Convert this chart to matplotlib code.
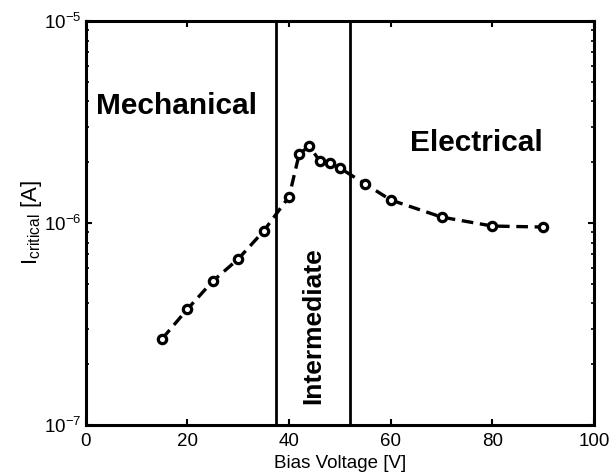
import matplotlib
matplotlib.use("Agg")
import matplotlib.pyplot as plt
from matplotlib.ticker import LogLocator, NullFormatter

plt.rcParams["font.family"] = ["Liberation Sans", "DejaVu Sans"]
plt.rcParams["mathtext.fontset"] = "custom"
plt.rcParams["mathtext.rm"] = "Liberation Sans"
plt.rcParams["mathtext.it"] = "Liberation Sans"
plt.rcParams["mathtext.default"] = "regular"

# bias voltage [V] and critical current [A]
voltage = [15, 20, 25, 30, 35, 40, 42, 44, 46, 48, 50, 55, 60, 70, 80, 90]
i_critical = [2.67e-7, 3.75e-7, 5.16e-7, 6.64e-7, 9.13e-7, 1.35e-6, 2.20e-6, 2.40e-6,
              2.03e-6, 1.98e-6, 1.87e-6, 1.56e-6, 1.30e-6, 1.07e-6, 0.966e-6, 0.955e-6]
boundaries = [37.5, 52.0]
x_ticks = [0, 20, 40, 60, 80, 100]

fig = plt.figure(figsize=(6.13, 4.76), dpi=100)
ax = fig.add_axes([0.140, 0.107, 0.829, 0.849])

ax.plot(voltage, i_critical, ls="--", color="black", lw=2.4, dashes=(3.5, 2),
        marker="o", ms=6, mfc="white", mec="black", mew=2.3)
for b in boundaries:
    ax.axvline(b, color="black", lw=2.0)

ax.set_yscale("log")
ax.set_xlim(0, 100)
ax.set_ylim(1e-7, 1e-5)
ax.set_xticks(x_ticks)
ax.yaxis.set_major_locator(LogLocator(base=10, numticks=5))
ax.yaxis.set_minor_locator(LogLocator(base=10, subs=range(2, 10), numticks=20))
ax.yaxis.set_minor_formatter(NullFormatter())
ax.tick_params(which="both", direction="in", top=True, right=True, labelsize=13.5)
ax.tick_params(which="major", length=4, width=1.5)
ax.tick_params(which="minor", length=2, width=1.2)
ax.tick_params(axis="x", pad=6)
for s in ax.spines.values():
    s.set_linewidth(2.2)

ax.set_xlabel("Bias Voltage [V]", fontsize=13.5, labelpad=3)
ax.set_ylabel("I$_{critical}$ [A]", fontsize=16, labelpad=0)

ax.text(2, 3.8e-6, "Mechanical", fontsize=21.5, fontweight="bold", va="center", ha="left")
ax.text(63.8, 2.5e-6, "Electrical", fontsize=21.5, fontweight="bold", va="center", ha="left")
ax.text(44.8, 3.1e-7, "Intermediate", fontsize=19, fontweight="bold", rotation=90,
        va="center", ha="center")

fig.savefig("out.png", dpi=100)
